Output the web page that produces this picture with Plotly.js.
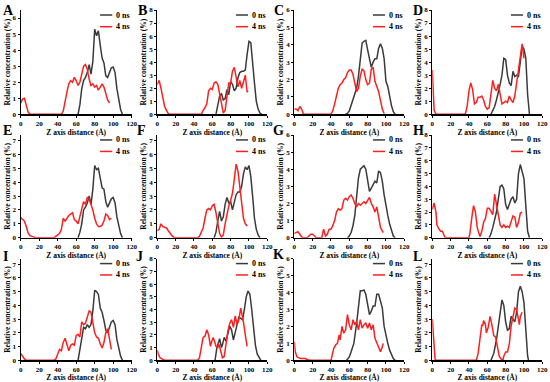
<!DOCTYPE html>
<html><head><meta charset="utf-8">
<script src="https://cdn.plot.ly/plotly-3.0.1.min.js"></script>
<style>html,body{margin:0;padding:0;background:#fff}#chart{width:550px;height:382px}</style>
</head><body><div id="chart"></div>
<script>
// ---------- DATA ----------
const panelLabels = ['A','B','C','D','E','F','G','H','I','J','K','L'];
const seriesNames = ['0 ns','4 ns'];
const xTitle = 'Z axis distance (Å)';
const yTitle = 'Relative concentration (%)';
const yMax = [6.5,8,6,8,7.4,7.4,6,8,7.4,8,6,7.4];

const A_z0 = [62,64,66,68,70,72,74,76,78,80,82,84,86,88,90,92,94,96,98,100,102,104,106,108,110];
const A_c0 = [0,0.6,1.6,2.1,2.3,2.6,3.1,2.5,3.3,5.3,4.9,5.2,4.3,3.5,3.2,2.4,2.3,2.6,2.9,2.95,2.6,1.6,0.9,0.3,0];
const A_z4 = [0,2,4,6,8,10,44,46,48,50,52,54,56,58,60,62,64,66,68,70,72,74,76,78,80,82,84,86,88,90,92,94,96];
const A_c4 = [0.7,0.95,1.0,0.6,0.15,0,0,0.2,0.9,1.4,1.9,2.1,2.0,2.3,2.1,1.8,2.0,2.6,3.0,3.1,2.8,2.2,1.8,1.9,1.7,1.8,1.5,1.7,1.9,1.7,1.3,0.9,0.7];

const B_z0 = [64,66,68,70,72,74,76,78,80,82,84,86,88,90,92,94,96,98,100,102,104,106,108,110,112,114];
const B_c0 = [0,0.8,1.4,1.6,1.1,1.2,1.9,1.5,2.5,2.3,1.8,2.0,2.8,3.2,3.3,3.3,3.4,4.6,5.6,5.5,4.2,2.4,1.0,0.4,0.1,0];
const B_z4 = [0,2,4,6,8,10,12,14,48,50,52,54,56,58,60,62,64,66,68,70,72,74,76,78,80,82,84,86,88,90,92,94,96,98,99];
const B_c4 = [2.3,2.6,2.0,1.2,0.6,0.3,0.05,0,0,0.3,0.5,0.8,1.8,2.0,1.9,2.4,2.5,2.3,1.5,0.6,0.1,0.3,1.2,2.4,2.4,3.3,3.6,2.9,2.1,2.6,2.0,2.5,3.0,1.7,1.8];

const C_z0 = [56,58,60,62,64,66,68,70,72,74,76,78,80,82,84,86,88,90,92,94,96,98,100,102,104,106,108,110];
const C_c0 = [0,0.05,0.2,0.5,0.8,1.1,1.5,2.2,3.3,4.1,4.2,4.25,3.7,3.1,2.7,3.0,3.2,3.2,3.8,4.05,3.8,3.2,1.9,1.6,1.0,0.5,0.15,0];
const C_z4 = [0,2,4,6,8,10,40,42,44,46,48,50,52,54,56,58,60,62,64,66,68,70,72,74,76,78,80,82,84,86,88,90,92,94,96,98];
const C_c4 = [0.3,0.3,0.2,0.45,0.3,0,0,0.2,0.6,1.1,1.5,1.7,1.8,2.0,2.1,2.4,2.55,2.55,2.3,1.8,1.3,1.5,2.2,2.6,2.5,2.0,1.7,1.8,2.6,2.7,1.9,1.6,1.3,0.8,0.3,0.05];

const D_z0 = [64,66,68,70,72,74,76,78,80,82,84,86,88,90,92,94,96,98,100,102,104,106];
const D_c0 = [0,0.3,0.6,1.1,1.6,2.3,3.0,4.3,4.2,3.0,2.4,2.2,3.3,2.9,3.0,2.9,4.0,5.2,5.0,4.3,1.5,0];
const D_z4 = [0,1,2,4,36,38,40,42,44,46,48,50,52,54,56,58,60,62,64,66,68,70,72,74,76,78,80,82,84,86,88,90,92,94,96,98,100];
const D_c4 = [3.4,1.2,0.3,0,0,0.6,1.8,2.4,1.9,0.8,0.9,1.3,1.3,1.4,1.1,0.6,0.4,0.5,1.4,2.6,2.0,1.8,2.3,1.4,0.8,0.9,1.0,0.9,1.4,1.1,0.9,1.4,2.4,3.4,4.6,5.4,4.3];

const E_z0 = [62,64,66,68,70,72,74,76,78,80,82,84,86,88,90,92,94,96,98,100,102,104,106,108,110];
const E_c0 = [0,0.4,1.0,2.0,2.2,2.5,3.0,2.4,3.5,5.2,4.9,5.0,4.3,3.6,3.5,2.6,2.2,2.5,2.8,2.9,2.5,1.5,0.9,0.3,0];
const E_z4 = [0,2,4,6,8,10,12,14,16,36,38,40,42,44,46,48,50,52,54,56,58,60,62,64,66,68,70,72,74,76,78,80,82,84,86,88,90,92,94,96,98];
const E_c4 = [1.45,1.3,1.2,0.8,0.35,0.15,0.1,0.05,0,0,0.1,0.2,0.3,0.6,1.4,1.2,1.4,1.6,1.7,1.8,1.3,1.2,1.0,1.6,2.2,2.6,2.4,2.9,2.8,2.4,2.0,1.4,1.0,0.8,0.8,0.9,1.2,1.7,1.6,1.3,1.4];

const F_z0 = [62,64,66,68,70,72,74,76,78,80,82,84,86,88,90,92,94,96,98,100,102,104,106,108,110,112];
const F_c0 = [0,0.4,1.2,1.9,1.2,1.5,2.4,2.9,2.5,2.6,2.0,2.5,3.1,3.3,3.3,3.7,4.6,5.1,4.9,5.2,4.4,3.0,1.4,0.6,0.2,0];
const F_z4 = [0,2,4,6,8,10,12,14,16,18,20,44,46,48,50,52,54,56,58,60,62,64,66,68,70,72,74,76,78,80,82,84,86,88,90,92,94,96,98];
const F_c4 = [0.5,0.6,1.0,0.8,0.75,0.7,0.5,0.3,0.15,0.03,0,0,0.1,0.4,0.7,1.4,2.0,2.1,2.0,2.3,2.4,1.8,0.9,0.3,0.05,0.2,1.0,1.8,2.3,2.7,3.2,4.2,5.3,4.8,3.5,2.3,1.4,1.0,0.85];

const G_z0 = [58,60,62,64,66,68,70,72,74,76,78,80,82,84,86,88,90,92,94,96,98,100,102,104,106,108,110];
const G_c0 = [0,0.1,0.3,0.7,1.3,2.3,3.5,4.0,4.1,4.2,4.0,3.3,2.7,2.9,3.1,3.3,3.2,3.9,3.8,3.3,2.5,1.8,1.3,0.8,0.4,0.1,0];
const G_z4 = [0,2,4,6,8,10,14,16,18,20,22,24,30,32,34,36,38,40,42,44,46,48,50,52,54,56,58,60,62,64,66,68,70,72,74,76,78,80,82,84,86,88,90,92,94,96,97];
const G_c4 = [0.25,0.3,0.35,0.2,0.05,0,0,0.1,0.2,0.2,0.1,0,0,0.5,0.1,0.2,0.5,0.5,0.7,1.0,1.5,1.7,1.6,1.7,2.2,2.3,2.2,2.4,2.5,2.3,2.0,1.8,2.0,1.9,2.0,2.1,2.0,2.2,2.35,2.0,1.8,1.5,1.8,1.2,0.6,0.4,0.3];

const H_z0 = [62,64,66,68,70,72,74,76,78,80,82,84,86,88,90,92,94,96,98,100,102,104,106];
const H_c0 = [0,0.3,0.8,1.3,2.0,3.0,4.0,4.1,3.8,2.6,2.2,2.6,3.0,3.2,2.7,3.0,5.0,5.7,5.2,4.6,2.5,0.5,0];
const H_z4 = [0,2,4,5,7,9,11,13,14,40,41,43,45,47,49,51,52,54,56,58,60,62,64,66,68,70,72,74,76,78,80,82,84,86,88,90,92,94,96,98];
const H_c4 = [2.2,2.7,2.0,1.0,0.7,0.5,0.5,0.1,0,0,0.3,1.5,2.5,2.0,0.8,0.3,0.1,0.5,1.2,1.5,2.3,2.3,2.0,1.8,3.4,2.6,1.5,1.0,0.8,1.0,0.8,0.9,0.8,1.2,1.7,1.6,0.8,1.2,1.9,2.0];

const I_z0 = [62,64,66,68,70,72,74,76,78,80,82,84,86,88,90,92,94,96,98,100,102,104,106,108,110];
const I_c0 = [0,0.8,1.8,2.4,2.3,2.6,2.4,2.6,3.6,5.1,5.0,4.8,3.8,3.5,2.9,2.2,2.0,2.4,2.8,2.9,2.6,1.5,0.8,0.3,0];
const I_z4 = [0,2,4,6,36,38,40,42,44,46,48,50,52,54,56,58,60,62,64,66,68,70,72,74,76,78,80,82,84,86,88,90,92,94,96,98];
const I_c4 = [0.5,0.3,0.1,0,0,0.1,0.4,0.8,0.7,1.3,1.6,1.1,0.7,1.1,1.2,1.1,1.8,1.9,1.7,2.8,2.6,2.7,3.2,3.6,3.5,2.6,2.0,1.7,1.6,1.2,0.9,1.3,2.0,2.3,1.4,0.8];

const J_z0 = [63,65,68,70,71,73,75,77,79,81,83,85,87,89,91,93,95,97,99,101,103,105,107,109,111,113];
const J_c0 = [0,1.0,1.7,1.0,1.2,1.8,1.5,2.1,2.7,2.4,1.6,2.2,2.9,3.4,3.3,3.2,4.0,5.0,5.45,5.2,4.0,2.5,1.2,0.5,0.2,0];
const J_z4 = [0,1,3,5,8,44,46,48,50,52,54,56,58,59,61,62,64,66,67,69,71,73,75,77,79,81,83,85,87,89,91,93,94,96,98];
const J_c4 = [0.8,0.5,0.2,0.1,0,0,0.2,1.0,1.8,1.9,2.4,2.0,1.1,1.4,1.8,1.6,1.1,1.0,1.3,0.8,0.2,0.3,1.4,2.3,2.9,3.2,2.6,3.5,2.8,3.2,4.1,3.5,3.0,2.0,1.1];

const K_z0 = [57,60,62,65,68,70,72,74,76,78,80,82,84,86,88,90,92,94,96,98,100,102,104,106,108,110];
const K_c0 = [0,0.2,0.5,1.0,2.2,3.3,4.1,4.1,4.15,3.9,3.3,2.7,2.9,3.2,3.2,3.9,3.9,3.5,3.1,2.0,1.4,1.0,0.6,0.3,0.1,0];
const K_z4 = [0,1,3,5,7,10,12,14,16,40,41,43,45,47,49,50,52,54,56,58,60,62,64,66,68,70,72,74,76,78,80,82,84,86,88,90,92,94,96,97];
const K_c4 = [1.1,0.5,0.2,0.15,0.1,0.1,0.1,0.05,0,0,0.3,0.7,0.9,1.0,1.5,1.2,2.0,1.6,1.8,2.7,2.1,1.8,2.4,2.1,2.3,1.8,2.4,1.9,2.1,2.2,1.9,2.2,1.8,2.1,1.3,1.0,0.7,0.5,0.8,1.0];

const L_z0 = [64,67,70,72,74,76,78,80,82,84,86,88,90,92,94,96,98,100,102,104,105];
const L_c0 = [0,0.5,1.5,2.5,3.5,4.4,4.0,2.8,2.2,2.3,3.2,3.0,2.8,3.5,5.0,5.4,5.0,4.2,2.0,0.3,0];
const L_z4 = [0,2,3,4,48,50,52,54,55,56,58,59,61,63,65,67,69,71,73,75,77,78,80,82,84,86,88,90,92,94,95,96,98];
const L_c4 = [3.0,1.0,0.1,0,0,0.5,1.8,2.6,2.5,2.9,2.6,2.0,2.4,3.2,2.6,1.8,1.7,1.1,0.3,0.1,0,0.3,0.6,0.6,1.2,2.5,3.2,3.8,3.7,2.9,2.6,3.2,3.5];

const panelData = [
  [A_z0,A_c0,A_z4,A_c4],[B_z0,B_c0,B_z4,B_c4],[C_z0,C_c0,C_z4,C_c4],[D_z0,D_c0,D_z4,D_c4],
  [E_z0,E_c0,E_z4,E_c4],[F_z0,F_c0,F_z4,F_c4],[G_z0,G_c0,G_z4,G_c4],[H_z0,H_c0,H_z4,H_c4],
  [I_z0,I_c0,I_z4,I_c4],[J_z0,J_c0,J_z4,J_c4],[K_z0,K_c0,K_z4,K_c4],[L_z0,L_c0,L_z4,L_c4]
];

// ---------- LAYOUT ----------
const W = 550, H = 382;
const FONT = 'Liberation Serif, Times New Roman, serif';
const colsPx = [[20.7,131.7],[157.3,267.3],[294.3,404.3],[432.3,542.3]];
const rowsPx = [[10,114.3],[135,237.7],[258.7,360.3]];
const letterPos = [[8,11],[142,10.5],[279,11],[418,10.5],[7,131],[141,131],[278,131],[418,131],[5,256],[140,256],[278,255],[417,256]];
const lineColors = ['#3a3a3a','#ff1f1f'];

const traces = [];
const layout = {
  width: W, height: H, margin: {l:0,r:0,t:0,b:0},
  paper_bgcolor: '#fff', plot_bgcolor: '#fff', showlegend: false,
  font: {family: FONT, color: '#000'},
  shapes: [], annotations: []
};

panelData.forEach((pd, i) => {
  const n = i + 1;
  const r = Math.floor(i / 4), c = i % 4;
  const xn = n === 1 ? 'x' : 'x' + n;
  const yn = n === 1 ? 'y' : 'y' + n;
  const xk = n === 1 ? 'xaxis' : 'xaxis' + n;
  const yk = n === 1 ? 'yaxis' : 'yaxis' + n;
  traces.push({x: pd[0], y: pd[1], type: 'scatter', mode: 'lines', name: seriesNames[0],
    xaxis: xn, yaxis: yn, line: {color: lineColors[0], width: 1.5}});
  traces.push({x: pd[2], y: pd[3], type: 'scatter', mode: 'lines', name: seriesNames[1],
    xaxis: xn, yaxis: yn, line: {color: lineColors[1], width: 1.5}});
  const common = {showline: true, linecolor: '#000', linewidth: 1.2, ticks: 'outside', ticklen: 2,
    tickwidth: 1, tickcolor: '#000', showgrid: false, zeroline: false, fixedrange: true,
    tickfont: {family: FONT, size: 7, color: '#000', weight: 'bold'}};
  layout[xk] = Object.assign({}, common, {
    domain: [colsPx[c][0]/W, colsPx[c][1]/W], anchor: yn, range: [0,120], tick0: 0, dtick: 20,
    title: {text: xTitle, font: {family: FONT, size: 7.5, color: '#000', weight: 'bold'}, standoff: 0}
  });
  layout[yk] = Object.assign({}, common, {
    domain: [1 - rowsPx[r][1]/H, 1 - rowsPx[r][0]/H], anchor: xn, range: [0, yMax[i]], tick0: 0, dtick: 1,
    title: {text: yTitle, font: {family: FONT, size: 7.5, color: '#000', weight: 'bold'}, standoff: 1}
  });
  // legend (per panel)
  const ly = [0.952, 0.84];
  for (let s = 0; s < 2; s++) {
    layout.shapes.push({type: 'line', xref: xn + ' domain', yref: yn + ' domain',
      x0: 0.715, x1: 0.825, y0: ly[s], y1: ly[s], line: {color: lineColors[s], width: 1.5}});
    layout.annotations.push({xref: xn + ' domain', yref: yn + ' domain', x: 0.84, y: ly[s],
      xanchor: 'left', yanchor: 'middle', showarrow: false, text: seriesNames[s],
      font: {family: FONT, size: 8, color: '#000', weight: 'bold'}});
  }
  layout.annotations.push({xref: 'paper', yref: 'paper', x: letterPos[i][0]/W, y: 1 - letterPos[i][1]/H,
    xanchor: 'center', yanchor: 'middle', showarrow: false, text: panelLabels[i],
    font: {family: FONT, size: 14, color: '#000', weight: 'bold'}});
});

Plotly.newPlot('chart', traces, layout, {staticPlot: true, displayModeBar: false});
</script>
</body></html>
